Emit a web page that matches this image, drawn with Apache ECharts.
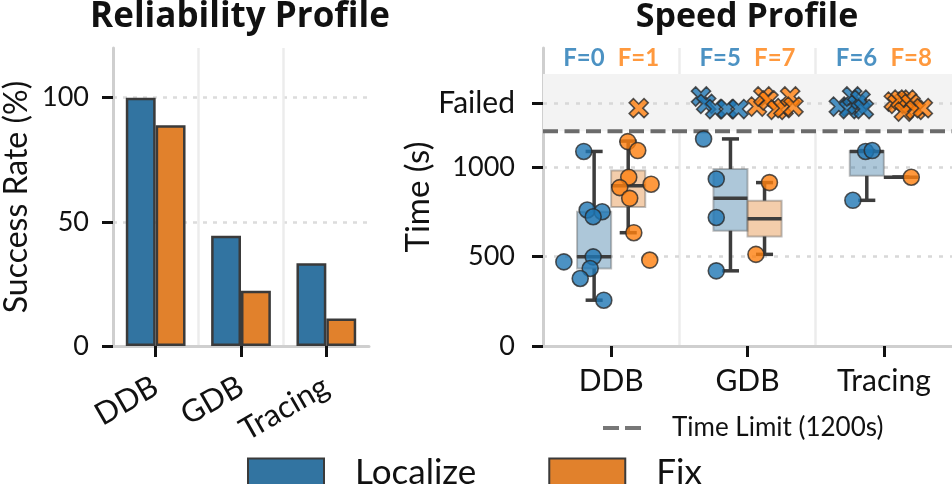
<!DOCTYPE html>
<html>
<head>
<meta charset="utf-8">
<script src="https://cdn.jsdelivr.net/npm/echarts@6/dist/echarts.min.js"></script>
<style>
  html, body { margin: 0; padding: 0; background: #fff; }
  #chart { width: 952px; height: 484px; }
</style>
</head>
<body>
<div id="chart"></div>
<script>
// categories
const tools = ["DDB", "GDB", "Tracing"];

// success rate (%) per tool
const successLocalize = [100, 44.4, 33.3];
const successFix = [88.9, 22.2, 11.1];

// number of failed runs per tool
const failLocalize = [0, 5, 6];
const failFix = [1, 7, 8];

// box stats per tool: [min, Q1, median, Q3, max]
const boxLocalize = [
  [256, 433, 498, 750, 1087],
  [420, 644, 826, 989, 1157],
  [814, 951, 1087, 1090, 1092],
];
const boxFix = [
  [633, 777, 895, 980, 1145],
  [512, 612, 711, 812, 913],
  [943, 943, 943, 943, 943],
];

// successful run times (s) and their strip jitter (category units)
const timesLocalize = [
  [1087, 760, 750, 722, 498, 470, 433, 377, 256],
  [1157, 933, 718, 420],
  [1087, 1092, 814],
];
const jitterLocalize = [
  [-0.201, -0.176, -0.066, -0.132, -0.132, -0.347, -0.154, -0.227, -0.054],
  [-0.322, -0.229, -0.229, -0.229],
  [-0.134, -0.085, -0.227],
];
const timesFix = [
  [1142, 1092, 943, 904, 885, 825, 633, 480],
  [913, 512],
  [943],
];
const jitterFix = [
  [0.122, 0.195, 0.129, 0.293, 0.063, 0.136, 0.166, 0.283],
  [0.161, 0.062],
  [0.201],
];

// failed runs drawn in the "Failed" row (y jitter + x jitter)
const failedLocalizeY = [[], [1394, 1353, 1324, 1324, 1324], [1338, 1324, 1394, 1348, 1376, 1324]];
const failedLocalizeX = [[], [-0.341, -0.303, -0.237, -0.151, -0.066], [-0.33, -0.256, -0.232, -0.195, -0.171, -0.147]];
const failedFixY = [[1329], [1338, 1394, 1372, 1320, 1329, 1394, 1338], [1366, 1353, 1376, 1376, 1353, 1310, 1320, 1329]];
const failedFixX = [[0.202], [0.069, 0.117, 0.154, 0.215, 0.264, 0.313, 0.337], [0.073, 0.098, 0.122, 0.171, 0.196, 0.147, 0.232, 0.286]];

const yTicksLeft = [0, 50, 100];
const yTicksRight = [0, 500, 1000];
const FAILED_Y = 1355;
const TIME_LIMIT = 1200;
const BAND_TOP = 1520;
const Y_MAX = 1665;
const F_LABEL_Y = 1605;

const FONT = "Lato";
const BAR_BLUE = "#3274a1";
const BAR_ORANGE = "#e1812c";
const PT_BLUE = "#1f77b4";
const PT_ORANGE = "#ff7f0e";
const X_PATH = "path://M0,2.2L2.2,0L5,2.8L7.8,0L10,2.2L7.2,5L10,7.8L7.8,10L5,7.2L2.2,10L0,7.8L2.8,5Z";
const DASH_ICON = "path://M0,0h16v4h-16z M22,0h16v4h-16z";

const BOX_OFF = 0.125;
const BOX_HALF = 0.125;

function boxData(stats, off) {
  return stats.map((s, i) => [i + off].concat(s));
}

// build [x, y] points, x = category index + jitter
function pointData(ys, xs) {
  let out = [];
  ys.forEach((arr, i) => {
    arr.forEach((y, j) => out.push([i + xs[i][j], y]));
  });
  return out;
}

function renderBox(fill) {
  return function (params, api) {
    const x = api.value(0);
    const lo = api.coord([x - BOX_HALF, api.value(2)]);
    const hi = api.coord([x + BOX_HALF, api.value(4)]);
    const med = api.coord([x, api.value(3)]);
    const wMin = api.coord([x, api.value(1)]);
    const wMax = api.coord([x, api.value(5)]);
    const capL = api.coord([x - BOX_HALF / 2, 0])[0];
    const capR = api.coord([x + BOX_HALF / 2, 0])[0];
    const line = { stroke: "#3d3d3d", lineWidth: 3.5 };
    return {
      type: "group",
      children: [
        {
          type: "rect",
          shape: { x: lo[0], y: hi[1], width: hi[0] - lo[0], height: lo[1] - hi[1] },
          style: { fill: fill, stroke: "rgba(70,70,70,0.35)", lineWidth: 2 },
        },
        { type: "line", shape: { x1: wMax[0], y1: hi[1], x2: wMax[0], y2: wMax[1] }, style: line },
        { type: "line", shape: { x1: wMin[0], y1: lo[1], x2: wMin[0], y2: wMin[1] }, style: line },
        { type: "line", shape: { x1: capL, y1: wMax[1], x2: capR, y2: wMax[1] }, style: line },
        { type: "line", shape: { x1: capL, y1: wMin[1], x2: capR, y2: wMin[1] }, style: line },
        { type: "line", shape: { x1: lo[0], y1: med[1], x2: hi[0], y2: med[1] }, style: line },
      ],
    };
  };
}

const chart = echarts.init(document.getElementById("chart"), null, { renderer: "canvas" });

const tickLine = { show: true, length: 11, lineStyle: { color: "#111", width: 3 } };
const spine = { show: true, onZero: false, lineStyle: { color: "#cfcfcf", width: 3 } };
const vGrid = { show: true, showMinLine: false, showMaxLine: false, lineStyle: { color: "#ececec", width: 2.5 } };

// hidden value axis only used for the vertical grid lines between categories
function gridXAxis(gridIndex) {
  return {
    type: "value", gridIndex: gridIndex, min: -0.5, max: 2.5, interval: 1, position: "top",
    axisLine: { show: false, onZero: false }, axisTick: { show: false }, axisLabel: { show: false },
    splitLine: vGrid,
  };
}

const option = {
  animation: false,
  textStyle: { fontFamily: FONT },
  title: [
    {
      text: "Reliability Profile", left: 240, top: 0, textAlign: "center", padding: 0,
      textStyle: { fontFamily: "Open Sans", fontSize: 35, fontWeight: "bold", color: "#111" },
    },
    {
      text: "Speed Profile", left: 747, top: 0, textAlign: "center", padding: 0,
      textStyle: { fontFamily: "Open Sans", fontSize: 34, fontWeight: "bold", color: "#111" },
    },
  ],
  legend: [
    {
      data: [{ name: "Localize", icon: "rect" }, { name: "Fix", icon: "rect" }],
      left: 247, top: 455, padding: 0,
      itemWidth: 76, itemHeight: 28, itemGap: 72,
      textStyle: { fontFamily: FONT, fontSize: 35, color: "#111", padding: [0, 0, 0, 26] },
    },
    {
      data: [{ name: "Time Limit (1200s)", icon: DASH_ICON }],
      left: 603, top: 415, padding: 0,
      itemWidth: 38, itemHeight: 4,
      textStyle: { fontFamily: FONT, fontSize: 26, color: "#111", padding: [0, 0, 0, 26] },
    },
  ],
  grid: [
    { left: 113, top: 48, width: 256, height: 298 },
    { left: 543, top: 48, width: 409, height: 298 },
  ],
  xAxis: [
    {
      type: "category", gridIndex: 0, data: tools,
      axisLine: spine,
      axisTick: Object.assign({ alignWithLabel: true }, tickLine),
      axisLabel: { rotate: 30, margin: 38, fontSize: 31, color: "#111", fontFamily: FONT },
      splitLine: { show: false },
    },
    {
      type: "category", gridIndex: 1, data: tools,
      axisLine: spine,
      axisTick: Object.assign({ alignWithLabel: true }, tickLine),
      axisLabel: { margin: 20, fontSize: 30, color: "#111", fontFamily: FONT },
      splitLine: { show: false },
    },
    gridXAxis(1),
    gridXAxis(0),
  ],
  yAxis: [
    {
      type: "value", gridIndex: 0, min: 0, max: 120, interval: 50,
      name: "Success Rate (%)", nameLocation: "middle", nameGap: 80,
      nameTextStyle: { fontSize: 32, color: "#111", fontFamily: FONT },
      axisLine: spine,
      axisTick: Object.assign({ customValues: yTicksLeft }, tickLine),
      axisLabel: { customValues: yTicksLeft, margin: 24, fontSize: 27, color: "#111", fontFamily: FONT },
      splitLine: { show: true, showMinLine: false, showMaxLine: true, lineStyle: { color: "#dcdcdc", width: 2.5, type: [4, 6] } },
    },
    {
      type: "value", gridIndex: 1, min: 0, max: Y_MAX,
      name: "Time (s)", nameLocation: "middle", nameGap: 94,
      nameTextStyle: { fontSize: 33, color: "#111", fontFamily: FONT },
      axisLine: spine,
      axisTick: Object.assign({ customValues: yTicksRight.concat([FAILED_Y]) }, tickLine),
      axisLabel: {
        customValues: yTicksRight.concat([FAILED_Y]), margin: 28, fontSize: 27, color: "#111", fontFamily: FONT,
        formatter: (v) => (v === FAILED_Y ? "{f|Failed}" : String(v)),
        rich: { f: { fontSize: 30, fontFamily: FONT, color: "#111" } },
      },
      splitLine: { show: false },
    },
  ],
  series: [
    {
      name: "Localize", type: "bar", xAxisIndex: 0, yAxisIndex: 0,
      data: successLocalize, barGap: "0%", barCategoryGap: "30%",
      itemStyle: { color: BAR_BLUE, borderColor: "#3a3a3a", borderWidth: 2.5 },
    },
    {
      name: "Fix", type: "bar", xAxisIndex: 0, yAxisIndex: 0,
      data: successFix, barGap: "0%", barCategoryGap: "30%",
      itemStyle: { color: BAR_ORANGE, borderColor: "#3a3a3a", borderWidth: 2.5 },
    },
    {
      name: "boxLocalize", type: "custom", xAxisIndex: 2, yAxisIndex: 1,
      data: boxData(boxLocalize, -BOX_OFF), renderItem: renderBox("rgba(50,116,161,0.4)"),
      silent: true, z: 2,
      markArea: {
        silent: true, z: 1,
        itemStyle: { color: "#f3f3f3" },
        data: [[{ yAxis: TIME_LIMIT }, { yAxis: BAND_TOP }]],
      },
      markLine: {
        silent: true, z: 1, symbol: ["none", "none"], label: { show: false },
        lineStyle: { color: "#d8d8d8", width: 2.5, type: [4, 7] },
        data: [{ yAxis: 500 }, { yAxis: 1000 }, { yAxis: FAILED_Y }],
      },
    },
    {
      name: "boxFix", type: "custom", xAxisIndex: 2, yAxisIndex: 1,
      data: boxData(boxFix, BOX_OFF), renderItem: renderBox("rgba(225,129,44,0.4)"),
      silent: true, z: 2,
    },
    {
      name: "Time Limit (1200s)", type: "line", xAxisIndex: 2, yAxisIndex: 1,
      data: [[-0.5, TIME_LIMIT], [2.5, TIME_LIMIT]], symbol: "none", silent: true, z: 3,
      lineStyle: { color: "#6b6b6b", width: 4, type: [15, 6.5] },
      itemStyle: { color: "#777777" },
    },
    {
      name: "ptLocalize", type: "scatter", xAxisIndex: 2, yAxisIndex: 1,
      data: pointData(timesLocalize, jitterLocalize), symbolSize: 16, z: 4,
      itemStyle: { color: PT_BLUE, opacity: 0.8, borderColor: "#2a2a2a", borderWidth: 1.6 },
    },
    {
      name: "ptFix", type: "scatter", xAxisIndex: 2, yAxisIndex: 1,
      data: pointData(timesFix, jitterFix), symbolSize: 16, z: 4,
      itemStyle: { color: PT_ORANGE, opacity: 0.8, borderColor: "#2a2a2a", borderWidth: 1.6 },
    },
    {
      name: "failLocalize", type: "scatter", xAxisIndex: 2, yAxisIndex: 1,
      data: pointData(failedLocalizeY, failedLocalizeX), symbol: X_PATH, symbolSize: 19, z: 4,
      itemStyle: { color: PT_BLUE, opacity: 0.8, borderColor: "#2a2a2a", borderWidth: 1.6 },
    },
    {
      name: "failFix", type: "scatter", xAxisIndex: 2, yAxisIndex: 1,
      data: pointData(failedFixY, failedFixX), symbol: X_PATH, symbolSize: 19, z: 4,
      itemStyle: { color: PT_ORANGE, opacity: 0.8, borderColor: "#2a2a2a", borderWidth: 1.6 },
    },
    {
      name: "fLabelLocalize", type: "scatter", xAxisIndex: 2, yAxisIndex: 1,
      data: failLocalize.map((n, i) => [i - 0.2, F_LABEL_Y, n]), symbolSize: 0, silent: true,
      label: {
        show: true, position: "inside", formatter: (p) => "F=" + p.value[2],
        fontFamily: FONT, fontSize: 24, fontWeight: "bold", color: PT_BLUE,
      },
    },
    {
      name: "fLabelFix", type: "scatter", xAxisIndex: 2, yAxisIndex: 1,
      data: failFix.map((n, i) => [i + 0.2, F_LABEL_Y, n]), symbolSize: 0, silent: true,
      label: {
        show: true, position: "inside", formatter: (p) => "F=" + p.value[2],
        fontFamily: FONT, fontSize: 24, fontWeight: "bold", color: PT_ORANGE,
      },
    },
  ],
};

chart.setOption(option);
</script>
</body>
</html>
